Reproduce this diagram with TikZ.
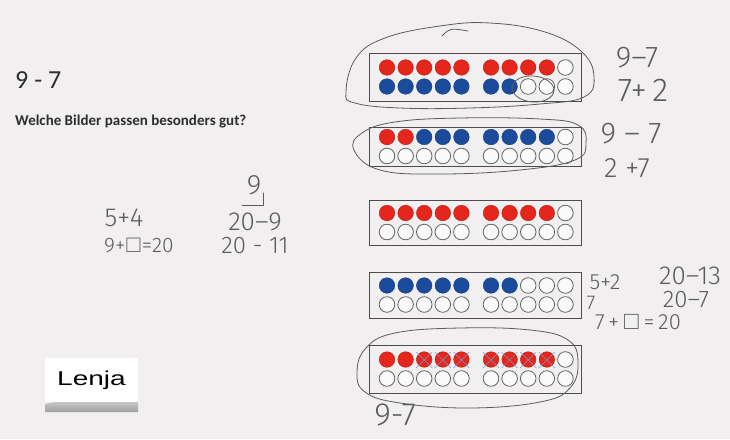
\documentclass[tikz,border=0pt]{standalone}
\usepackage{amsmath,amssymb}
\usepackage{fontspec}
\setmainfont{Carlito}
\newfontfamily\hand{Fira Sans Light}
\newfontfamily\kartenfont{Liberation Sans}
\usetikzlibrary{positioning,calc}
\definecolor{paper}{HTML}{F1EFF0}
\definecolor{ink}{HTML}{2E2E2E}
\definecolor{pen}{HTML}{5C5C5C}
\definecolor{dotred}{HTML}{E5261C}
\definecolor{dotblue}{HTML}{1B4C9C}
\definecolor{kreuzblau}{HTML}{6E9FD6}

% ein Zwanzigerfeld: Name, Mitte y, Hoehe, obere Reihe, untere Reihe
\newcommand\feld[5]{%
  \node[rahmen,minimum height=#3pt] (#1) at (475,#2) {};
  \foreach \f [count=\i] in {#4} {
    \pgfmathsetmacro\px{387+18.6*(\i-1)+11*(\i>5)}
    \path[punkt\f] (\px,#2-9.5) circle (\ifx\f w 7\else 7.8\fi);
  }
  \foreach \f [count=\i] in {#5} {
    \pgfmathsetmacro\px{387+18.6*(\i-1)+11*(\i>5)}
    \path[punkt\f] (\px,#2+9.5) circle (\ifx\f w 7\else 7.8\fi);
  }}

\begin{document}
\begin{tikzpicture}[x=1pt,y=-1pt,
    rahmen/.style={draw=ink!85,line width=0.9pt,minimum width=212pt,inner sep=0pt},
    punktr/.style={fill=dotred,draw=dotred!80!black,line width=0.4pt},
    punktb/.style={fill=dotblue,draw=dotblue!80!black,line width=0.4pt},
    punktw/.style={fill=white!70!paper,draw=ink!75,line width=0.8pt},
    stift/.style={draw=pen,line width=0.8pt,line cap=round,line join=round},
    handtext/.style={font=\hand\fontsize{#1}{#1}\selectfont,text=pen,inner sep=0pt},
    kreuz/.style={draw=kreuzblau,line width=0.5pt}]
  \fill[paper] (0,0) rectangle (730,439);
  \useasboundingbox (0,0) rectangle (730,439);

  % Aufgabe
  \node[anchor=base west,inner sep=0pt,text=ink,font=\fontsize{26}{26}\selectfont] (titel) at (15,88) {9 - 7};
  \node[anchor=base west,inner sep=0pt,text=ink,font=\bfseries\fontsize{15}{15}\selectfont] (frage) at (15,125) {Welche Bilder passen besonders gut?};

  % die fuenf Felder
  \feld{feld1}{77}{48}{r,r,r,r,r,r,r,r,r,w}{b,b,b,b,b,b,b,w,w,w}
  \feld{feld2}{146.5}{39}{r,r,b,b,b,b,b,b,b,w}{w,w,w,w,w,w,w,w,w,w}
  \feld{feld3}{222.5}{45}{r,r,r,r,r,r,r,r,r,w}{w,w,w,w,w,w,w,w,w,w}
  \feld{feld4}{295}{46}{b,b,b,b,b,b,b,w,w,w}{w,w,w,w,w,w,w,w,w,w}
  \feld{feld5}{369}{48}{r,r,r,r,r,r,r,r,r,w}{w,w,w,w,w,w,w,w,w,w}

  % durchgestrichene Punkte
  \foreach \i in {3,...,9} {
    \pgfmathsetmacro\px{387+18.6*(\i-1)+11*(\i>5)}
    \draw[kreuz] (\px-8,352) -- (\px+8,368) (\px-8,368) -- (\px+8,352);
  }

  % Kringel
  \draw[stift] plot[smooth cycle,tension=0.7] coordinates {(346,92) (356,58) (385,38) (440,26) (490,23) (545,32) (582,52) (594,77) (584,97) (540,104) (470,108) (400,108) (355,103)};
  \draw[stift] (442,36) .. controls (450,28) .. (468,31);
  \draw[stift,rotate around={-5:(533,89)}] (533,89) ellipse (21pt and 13pt);
  \draw[stift] plot[smooth cycle,tension=0.7] coordinates {(354,150) (362,133) (395,122) (460,118) (540,119) (578,125) (586,143) (575,160) (520,170) (440,174) (380,170)};
  \draw[stift] plot[smooth cycle,tension=0.7] coordinates {(357,372) (366,348) (395,333) (460,328) (530,330) (568,340) (578,362) (570,388) (540,402) (470,408) (400,403) (365,392)};

  % Notizen rechts
  \node[handtext=30] (n1) at (637,58) {9–7};
  \node[handtext=33] (n2) at (643,90) {7+\,2};
  \node[handtext=30] (n3) at (631,134) {9 – 7};
  \node[handtext=28] (n4) at (627,168) {2 +7};
  \node[handtext=22] (n5) at (605,282) {5+2};
  \node[handtext=20] (n6) at (591,303) {7};
  \node[handtext=22] (n7) at (638,322) {7\,+\,$\square$\,=\,20};
  \node[handtext=26] (n8) at (690,276) {20–13};
  \node[handtext=24] (n9) at (686,300) {20–7};
  \node[handtext=32] (n10) at (395,415) {9-7};

  % Notizen links
  \node[handtext=26] (m1) at (124,218) {5+4};
  \node[handtext=21] (m2) at (139,246) {9+$\square$=20};
  \node[handtext=28] (m3) at (254,185) {9};
  \node[handtext=26] (m4) at (255,222) {20–9};
  \node[handtext=24] (m5) at (255,246) {20 - 11};
  \draw[stift] (263,193) -- (263,205) -- (242,205);

  % Namenskarte
  \shade[top color=gray!25,bottom color=gray!75] (45,404) .. controls (80,396) and (110,396) .. (138,402) -- (138,412) -- (45,412) -- cycle;
  \node[fill=white,minimum width=93pt,minimum height=44pt,inner sep=0pt,font=\kartenfont\fontsize{20}{20}\selectfont] (lenja) at (91.5,380) {\scalebox{1.4}[1]{Lenja}};
\end{tikzpicture}
\end{document}
